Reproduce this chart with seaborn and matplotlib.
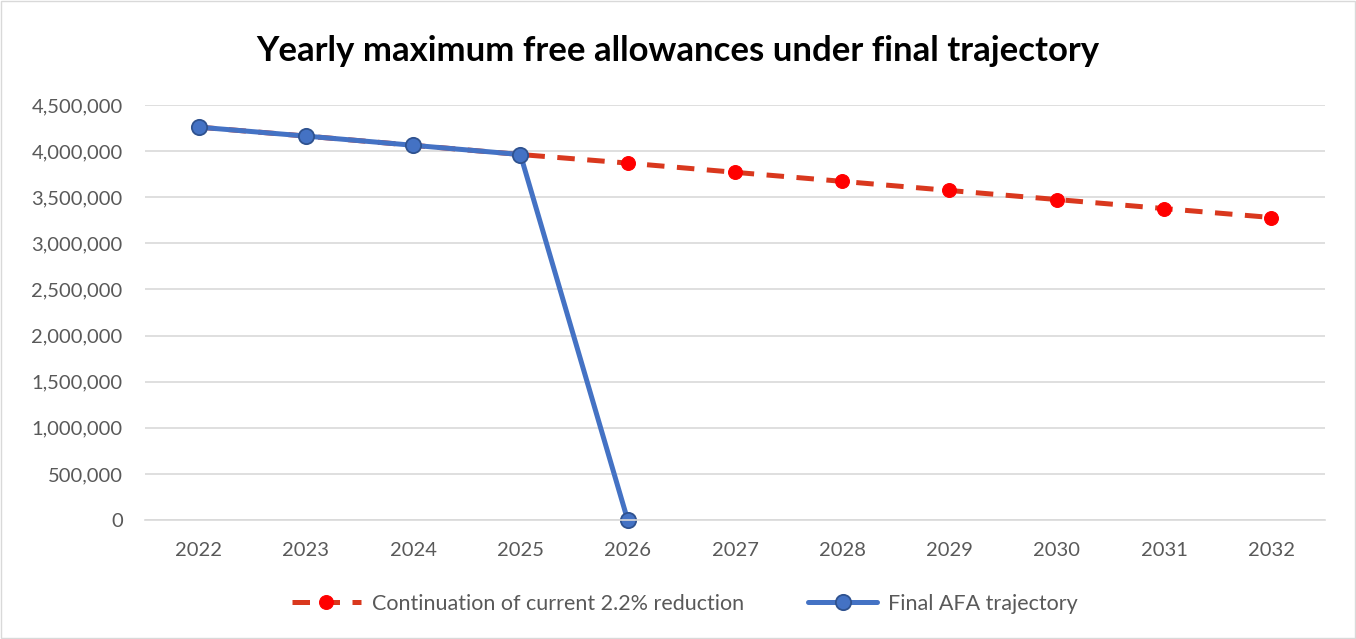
import pandas as pd
import seaborn as sns
import matplotlib.pyplot as plt
from matplotlib.ticker import FuncFormatter

# values
years = [2022, 2023, 2024, 2025, 2026, 2027, 2028, 2029, 2030, 2031, 2032]
continuation = [4260000, 4163000, 4063000, 3963000, 3870000, 3770000,
                3672000, 3573000, 3475000, 3377000, 3280000]
final_years = [2022, 2023, 2024, 2025, 2026]
final_afa = [4260000, 4163000, 4063000, 3963000, 0]

cont_label = "Continuation of current 2.2% reduction"
final_label = "Final AFA trajectory"

sns.set_theme(style="white")
plt.rcParams["font.family"] = ["Lato", "DejaVu Sans"]

df_cont = pd.DataFrame({"Year": years, "Allowances": continuation})
df_final = pd.DataFrame({"Year": final_years, "Allowances": final_afa})

fig = plt.figure(figsize=(13.56, 6.39), dpi=100)
ax = fig.add_axes([0.1069, 0.1862, 0.8702, 0.6495])

sns.lineplot(data=df_cont, x="Year", y="Allowances", ax=ax, color="#D9381E",
             linewidth=3.6, linestyle=(0, (3.5, 2.5)), marker="o", markersize=10,
             markerfacecolor="#FF0000", markeredgecolor="#FF0000", label=cont_label)
sns.lineplot(data=df_final, x="Year", y="Allowances", ax=ax, color="#4472C4",
             linewidth=3.6, marker="o", markersize=11,
             markerfacecolor="#4472C4", markeredgecolor="#2F528F",
             markeredgewidth=1.3, label=final_label)
for line in ax.lines:
    line.set_clip_on(False)

ax.set_xlim(years[0] - 0.5, years[-1] + 0.5)
ax.set_ylim(0, 4500000)
ax.set_xticks(years)
ax.set_yticks(range(0, 4500001, 500000))
ax.yaxis.set_major_formatter(FuncFormatter(lambda v, p: f"{int(v):,}"))
ax.grid(axis="y", color="#D9D9D9", linewidth=1.2)
ax.set_axisbelow(True)
for side in ["top", "right", "left"]:
    ax.spines[side].set_visible(False)
ax.spines["bottom"].set_color("#D9D9D9")
ax.spines["bottom"].set_linewidth(1.2)
ax.tick_params(axis="both", length=0, labelsize=14.5, colors="#595959")
ax.tick_params(axis="y", pad=16)
ax.tick_params(axis="x", pad=16)
ax.set_xlabel("")
ax.set_ylabel("")

fig.suptitle("Yearly maximum free allowances under final trajectory",
             fontsize=25, fontweight="bold", color="black", y=0.945)

# legend centred on the figure, not the axes
ax.legend(loc="center", bbox_to_anchor=(0.505, 0.055), bbox_transform=fig.transFigure,
          ncol=2, frameon=False, fontsize=15.5, labelcolor="#595959",
          handlelength=3.2, columnspacing=3.0, handletextpad=0.5)

# thin border round the chart area
fig.patches.append(plt.Rectangle((0.001, 0.001), 0.998, 0.998, transform=fig.transFigure,
                                 fill=False, edgecolor="#D9D9D9", linewidth=1))

fig.savefig("out.png", dpi=100)
